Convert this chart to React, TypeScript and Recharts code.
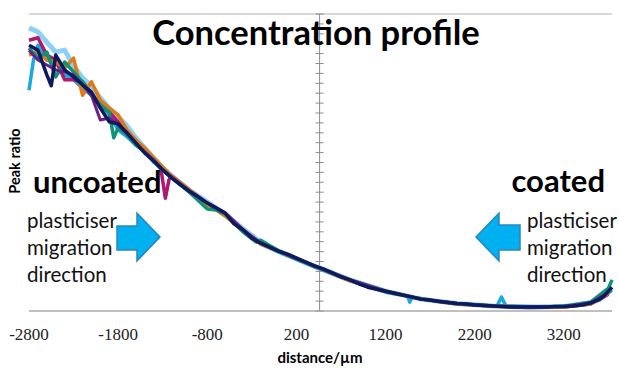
import { CartesianGrid, Line, LineChart, ReferenceLine, XAxis, YAxis } from "recharts";

// distance (µm) / peak ratio
const navyX = [-2800, -2700, -2600, -2550, -2500, -2400, -2300, -2200, -2100, -2000, -1900, -1800, -1700, -1600, -1500, -1400, -1300, -1200, -1100, -1000, -900, -800, -700, -600, -500, -400, -300, -200, -100, 0, 100, 200, 300, 400, 500, 600, 700, 800, 900, 1000, 1100, 1200, 1300, 1400, 1500, 1600, 1700, 1800, 1900, 2000, 2100, 2200, 2300, 2400, 2500, 2600, 2700, 2800, 2900, 3000, 3100, 3200, 3300, 3400, 3500, 3600, 3650, 3700, 3740];
const navyY = [0.537, 0.527, 0.477, 0.455, 0.517, 0.487, 0.473, 0.457, 0.442, 0.41, 0.382, 0.378, 0.36, 0.339, 0.319, 0.303, 0.285, 0.269, 0.255, 0.242, 0.23, 0.218, 0.208, 0.198, 0.176, 0.164, 0.147, 0.137, 0.129, 0.121, 0.115, 0.107, 0.099, 0.091, 0.085, 0.077, 0.069, 0.063, 0.055, 0.048, 0.044, 0.04, 0.036, 0.032, 0.028, 0.024, 0.022, 0.019, 0.017, 0.015, 0.014, 0.012, 0.011, 0.01, 0.009, 0.008, 0.008, 0.008, 0.008, 0.008, 0.009, 0.009, 0.01, 0.012, 0.016, 0.024, 0.03, 0.04, 0.048];

const lightX = [-2800, -2700, -2600, -2500, -2400, -2300, -2200, -2100, -2000, -1900, -1800, -1700, -1600, -1500, -1400, -1300, -1200, -1000, -800, -600, -400, -200, 0, 400, 800, 1200, 1600, 2000, 2400, 2800, 3200, 3500, 3700];
const lightY = [0.572, 0.564, 0.543, 0.523, 0.527, 0.495, 0.471, 0.455, 0.43, 0.41, 0.392, 0.374, 0.349, 0.329, 0.309, 0.289, 0.273, 0.244, 0.22, 0.196, 0.166, 0.139, 0.121, 0.091, 0.063, 0.04, 0.024, 0.015, 0.01, 0.008, 0.009, 0.016, 0.038];

const cyanX = [-2800, -2750, -2700, -2600, -2500, -2400, -2300, -2200, -2100, -2000, -1900, -1800, -1700, -1600, -1500, -1400, -1300, -1200, -1000, -800, -600, -400, -200, 0, 400, 800, 1200, 1450, 1470, 1500, 2000, 2450, 2500, 2550, 3000, 3400, 3600, 3740];
const cyanY = [0.446, 0.507, 0.537, 0.507, 0.503, 0.477, 0.467, 0.45, 0.436, 0.42, 0.396, 0.366, 0.352, 0.335, 0.325, 0.301, 0.289, 0.271, 0.24, 0.216, 0.196, 0.162, 0.135, 0.119, 0.089, 0.061, 0.038, 0.03, 0.018, 0.028, 0.014, 0.01, 0.028, 0.01, 0.008, 0.012, 0.022, 0.042];

const magentaX = [-2800, -2700, -2600, -2500, -2400, -2300, -2200, -2100, -2000, -1900, -1800, -1700, -1600, -1500, -1400, -1350, -1320, -1270, -1230, -1200, -1000, -800, -600, -400, -200, 0, 400, 800, 1200, 1600, 2000, 2400, 2800, 3200, 3500, 3700];
const magentaY = [0.547, 0.552, 0.517, 0.507, 0.467, 0.467, 0.463, 0.44, 0.416, 0.402, 0.382, 0.362, 0.345, 0.321, 0.305, 0.293, 0.287, 0.228, 0.265, 0.273, 0.244, 0.218, 0.198, 0.164, 0.137, 0.121, 0.091, 0.063, 0.04, 0.024, 0.015, 0.01, 0.007, 0.008, 0.014, 0.034];

const orangeX = [-2800, -2700, -2600, -2500, -2400, -2300, -2200, -2100, -2000, -1900, -1800, -1700, -1600, -1500, -1400, -1300, -1200, -1000, -800, -700, -600, -400, -200, 0, 400, 800, 1200, 1600, 2000, 2400, 2800, 3200, 3500, 3700];
const orangeY = [0.517, 0.523, 0.507, 0.503, 0.491, 0.511, 0.436, 0.463, 0.426, 0.41, 0.396, 0.366, 0.345, 0.329, 0.309, 0.291, 0.273, 0.244, 0.214, 0.204, 0.192, 0.162, 0.135, 0.121, 0.091, 0.061, 0.04, 0.024, 0.014, 0.01, 0.008, 0.008, 0.014, 0.036];

const tealX = [-2800, -2700, -2600, -2500, -2400, -2300, -2200, -2100, -2000, -1900, -1850, -1800, -1700, -1600, -1500, -1400, -1300, -1200, -1000, -800, -700, -600, -400, -250, -200, 0, 400, 800, 1200, 1600, 2000, 2400, 2800, 3200, 3500, 3700, 3740];
const tealY = [0.531, 0.511, 0.523, 0.473, 0.503, 0.483, 0.463, 0.436, 0.416, 0.402, 0.35, 0.37, 0.356, 0.335, 0.321, 0.301, 0.285, 0.269, 0.24, 0.206, 0.204, 0.196, 0.16, 0.139, 0.143, 0.121, 0.091, 0.063, 0.04, 0.024, 0.015, 0.01, 0.008, 0.009, 0.018, 0.046, 0.063];

const purpleX = [-2800, -2700, -2600, -2500, -2400, -2300, -2200, -2100, -2000, -1900, -1800, -1700, -1600, -1500, -1400, -1300, -1200, -1000, -800, -600, -400, -200, 0, 400, 800, 1200, 1600, 2000, 2400, 2800, 3200, 3500, 3700];
const purpleY = [0.527, 0.507, 0.497, 0.487, 0.483, 0.477, 0.457, 0.436, 0.386, 0.39, 0.376, 0.358, 0.339, 0.321, 0.305, 0.285, 0.271, 0.242, 0.218, 0.198, 0.164, 0.137, 0.121, 0.091, 0.063, 0.04, 0.024, 0.015, 0.01, 0.008, 0.009, 0.016, 0.038];

const xTicks = [-2800, -1800, -800, 200, 1200, 2200, 3200];
const yTicks = [0, 0.1, 0.2, 0.3, 0.4, 0.5, 0.6];
const axisCross = 460;

const toPoints = (xs: number[], ys: number[]) => xs.map((x, i) => ({ x, y: ys[i] }));

const series = [
  { key: "light", color: "#8fd0f4", width: 5, pts: toPoints(lightX, lightY) },
  { key: "cyan", color: "#1aa9e0", width: 3.5, pts: toPoints(cyanX, cyanY) },
  { key: "magenta", color: "#b0186f", width: 3.5, pts: toPoints(magentaX, magentaY) },
  { key: "orange", color: "#e07a17", width: 3.5, pts: toPoints(orangeX, orangeY) },
  { key: "teal", color: "#0f9375", width: 3.5, pts: toPoints(tealX, tealY) },
  { key: "purple", color: "#6a1f8c", width: 3, pts: toPoints(purpleX, purpleY) },
  { key: "navy", color: "#0f1a5c", width: 3.5, pts: toPoints(navyX, navyY) },
];

// vertical axis drawn in the middle, with major + minor tick marks
function MidAxis(props: any) {
  const { x1, y1, y2 } = props;
  const top = Math.min(y1, y2);
  const bottom = Math.max(y1, y2);
  const marks = [];
  const n = (yTicks.length - 1) * 5;
  for (let i = 0; i <= n; i++) {
    const y = top + ((bottom - top) * i) / n;
    marks.push(<line key={i} x1={x1 - 4} x2={x1 + 4} y1={y} y2={y} stroke="#8c8c8c" strokeWidth={1} />);
  }
  return (
    <g>
      <line x1={x1} x2={x1} y1={top} y2={bottom} stroke="#8c8c8c" strokeWidth={1} />
      {marks}
    </g>
  );
}

const bold = { fontFamily: "Lato, sans-serif", fontWeight: 700, fill: "#000" };
const plain = { fontFamily: "Lato, sans-serif", fontWeight: 400, fill: "#111", fontSize: 20.5 };

export default function App() {
  return (
    <div style={{ position: "absolute", left: 0, top: 0, width: 619, height: 370, background: "#fff" }}>
      <LineChart width={619} height={370} margin={{ top: 14, right: 7, left: 29, bottom: 29 }}>
        <CartesianGrid vertical={false} stroke="#b3b3b3" strokeWidth={1.2} />
        <XAxis
          dataKey="x"
          type="number"
          domain={[-2800, 3740]}
          ticks={xTicks}
          height={30}
          axisLine={{ stroke: "#a6a6a6", strokeWidth: 1.2 }}
          tickLine={false}
          tickMargin={11}
          tick={{ fill: "#222", fontSize: 17, fontFamily: "Liberation Serif, serif" }}
        />
        <YAxis width={0} domain={[0, 0.6]} ticks={yTicks} tick={false} axisLine={false} tickLine={false} />
        <ReferenceLine x={axisCross} shape={MidAxis} />
        {series.map((s) => (
          <Line
            key={s.key}
            data={s.pts}
            dataKey="y"
            stroke={s.color}
            strokeWidth={s.width}
            dot={false}
            isAnimationActive={false}
            strokeLinejoin="round"
          />
        ))}
      </LineChart>
      <svg width={619} height={370} style={{ position: "absolute", left: 0, top: 0, pointerEvents: "none" }}>
        <text x={316} y={45} textAnchor="middle" fontSize={34.5} {...bold}>Concentration profile</text>
        <text x={33} y={193} fontSize={31} {...bold}>uncoated</text>
        <text x={605} y={192} textAnchor="end" fontSize={31} {...bold}>coated</text>
        <text x={27} y={228} {...plain}>plasticiser</text>
        <text x={27} y={255} {...plain}>migration</text>
        <text x={27} y={282} {...plain}>direction</text>
        <text x={527} y={228} {...plain}>plasticiser</text>
        <text x={527} y={255} {...plain}>migration</text>
        <text x={527} y={282} {...plain}>direction</text>
        <polygon points="117,226 137,226 137,213 160,237 137,261 137,250 117,250" fill="#00b0f0" stroke="#2a86b8" strokeWidth={1.5} />
        <polygon points="520,225 499,225 499,213 476,237 499,261 499,250 520,250" fill="#00b0f0" stroke="#2a86b8" strokeWidth={1.5} />
        <text transform="translate(20,161) rotate(-90)" textAnchor="middle" fontSize={14.5} {...bold}>Peak ratio</text>
        <text x={320} y={363} textAnchor="middle" fontSize={15} {...bold}>distance/µm</text>
      </svg>
    </div>
  );
}
